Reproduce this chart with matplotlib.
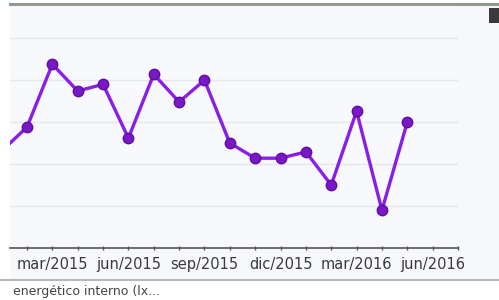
import matplotlib
matplotlib.use("Agg")
import matplotlib.pyplot as plt
from matplotlib.patches import Rectangle
from matplotlib.lines import Line2D

# Data (month index 0 = ene/2015)
months = list(range(17))
values = [2.31, 2.88, 4.38, 3.74, 3.90, 2.62, 4.14, 3.48, 4.00,
          2.50, 2.14, 2.14, 2.29, 1.50, 3.26, 0.90, 3.00]
tick_positions = list(range(1, 19))
tick_labels = ["", "mar/2015", "", "", "jun/2015", "", "", "sep/2015",
               "", "", "dic/2015", "", "", "mar/2016", "", "", "jun/2016", ""]
footer_text = "energético interno (lx..."

W, H = 499, 300
fig = plt.figure(figsize=(W / 100, H / 100), dpi=100)
fig.patch.set_facecolor("white")

# light background panel (behind axes)
bg = fig.add_axes([10 / W, (H - 279) / H, 1 - 10 / W, (279 - 4) / H], zorder=-10)
bg.set_facecolor("#f7f8fb")
bg.set_xticks([]); bg.set_yticks([])
for s in bg.spines.values():
    s.set_visible(False)

# top border
fig.add_artist(Line2D([10 / W, 1], [(H - 3.5) / H] * 2, transform=fig.transFigure,
                      color="#8f9b8f", linewidth=2.2, zorder=20))
# bottom separator
fig.add_artist(Line2D([0, 1], [(H - 279.5) / H] * 2, transform=fig.transFigure,
                      color="#b8b8b8", linewidth=1.5, zorder=20))
# dark icon top right
fig.add_artist(Rectangle((489 / W, (H - 23) / H), 10 / W, 15 / H,
                         transform=fig.transFigure, facecolor="#3a3a3a",
                         edgecolor="none", zorder=20))

ax = fig.add_axes([10 / W, (H - 248) / H, (458 - 10) / W, (248 - 5) / H], zorder=5)
ax.set_facecolor("#f8f9fc")
ax.plot(months, values, color="#8a1ee6", linewidth=2.4, marker="o",
        markersize=7.5, markerfacecolor="#7a18c8", markeredgecolor="#5e0fa0",
        markeredgewidth=1.0, solid_capstyle="round", zorder=3)

ax.set_yticks([1, 2, 3, 4, 5])
ax.yaxis.grid(True, color="#e6e7ec", linewidth=1.0)
ax.set_axisbelow(True)
ax.tick_params(axis="y", left=False, labelleft=False)
ax.set_xticks(tick_positions)
ax.set_xticklabels(tick_labels, fontsize=10.5, color="#3a3a3a")
ax.tick_params(axis="x", length=3, width=1, color="#555555", direction="inout", pad=5)
ax.set_xlim(0.33, 18.0)
ax.set_ylim(0, 5.79)
for s in ["top", "right", "left"]:
    ax.spines[s].set_visible(False)
ax.spines["bottom"].set_color("#555555")
ax.spines["bottom"].set_linewidth(1.2)

fig.text(13 / W, (H - 291) / H, footer_text, fontsize=9, color="#444444",
         va="center", ha="left")

fig.savefig("out.png", dpi=100, facecolor=fig.get_facecolor())
